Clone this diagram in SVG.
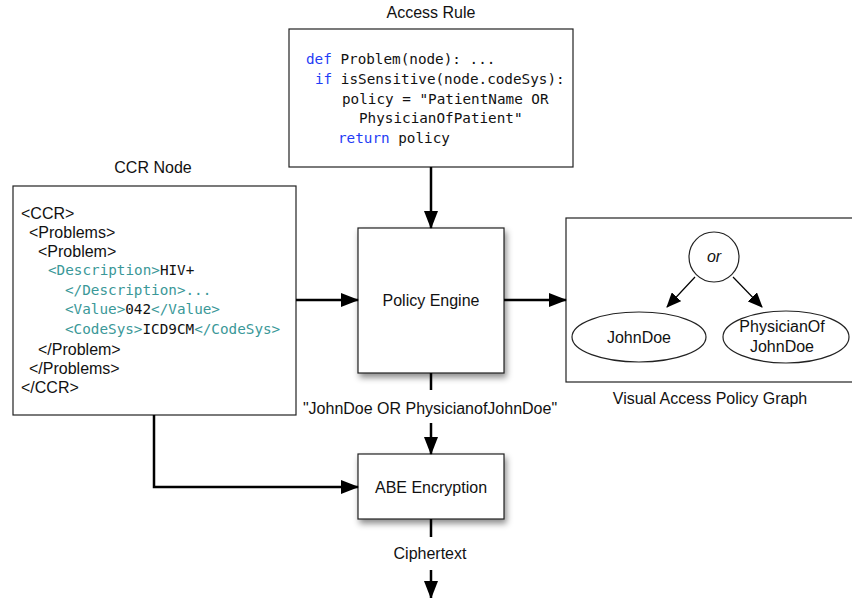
<svg xmlns="http://www.w3.org/2000/svg" width="852" height="598" viewBox="0 0 852 598">
<defs>
<style>
.box{fill:#fff;stroke:#222;stroke-width:1.2}
.lbl{font-family:"Liberation Sans",Arial,sans-serif;font-size:16px;fill:#111}
.mid{text-anchor:middle}
.mono{font-family:"DejaVu Sans Mono","Liberation Mono",monospace;font-size:14.3px;fill:#111}
.kw{fill:#1f3df5}
.tag{fill:#3a9898}
.conn{stroke:#000;stroke-width:2.5;fill:none}
.thin{stroke:#000;stroke-width:1.2;fill:none}
</style>
<marker id="ah" viewBox="0 0 18 14" refX="17" refY="7" markerWidth="18" markerHeight="14" markerUnits="userSpaceOnUse" orient="auto">
<path d="M0,0 L18,7 L0,14 Z" fill="#000"/>
</marker>
<marker id="ahs" viewBox="0 0 15 13" refX="14" refY="6.5" markerWidth="15" markerHeight="13" markerUnits="userSpaceOnUse" orient="auto">
<path d="M0,0 L15,6.5 L0,13 Z" fill="#000"/>
</marker>
<filter id="sh" x="-20%" y="-20%" width="150%" height="150%">
<feDropShadow dx="2" dy="4" stdDeviation="3" flood-color="#000" flood-opacity="0.45"/>
</filter>
</defs>

<g id="access-rule">
<text class="lbl mid" x="431" y="18">Access Rule</text>
<rect class="box" x="289" y="29" width="284" height="138"/>
<text class="mono" x="306" y="64"><tspan class="kw">def</tspan> Problem(node): ...</text>
<text class="mono" x="315" y="84"><tspan class="kw">if</tspan> isSensitive(node.codeSys):</text>
<text class="mono" x="342" y="104">policy = "PatientName OR</text>
<text class="mono" x="359" y="123">PhysicianOfPatient"</text>
<text class="mono" x="338" y="143"><tspan class="kw">return</tspan> policy</text>
</g>

<g id="ccr-node">
<text class="lbl mid" x="153" y="173">CCR Node</text>
<rect class="box" x="13" y="186" width="283" height="229"/>
<text class="lbl" x="21" y="219">&lt;CCR&gt;</text>
<text class="lbl" x="29" y="238">&lt;Problems&gt;</text>
<text class="lbl" x="38" y="257">&lt;Problem&gt;</text>
<text class="mono" x="48" y="275"><tspan class="tag">&lt;Description&gt;</tspan>HIV+</text>
<text class="mono tag" x="65" y="295">&lt;/Description&gt;...</text>
<text class="mono" x="65" y="314"><tspan class="tag">&lt;Value&gt;</tspan>042<tspan class="tag">&lt;/Value&gt;</tspan></text>
<text class="mono" x="65" y="334"><tspan class="tag">&lt;CodeSys&gt;</tspan>ICD9CM<tspan class="tag">&lt;/CodeSys&gt;</tspan></text>
<text class="lbl" x="38" y="355">&lt;/Problem&gt;</text>
<text class="lbl" x="29" y="374">&lt;/Problems&gt;</text>
<text class="lbl" x="21" y="393">&lt;/CCR&gt;</text>
</g>

<g id="policy-engine">
<rect class="box" x="358" y="228" width="146" height="145" filter="url(#sh)"/>
<text class="lbl mid" x="431" y="306">Policy Engine</text>
</g>

<g id="abe-encryption">
<rect class="box" x="358" y="454" width="146" height="65" filter="url(#sh)"/>
<text class="lbl mid" x="431" y="493">ABE Encryption</text>
</g>

<g id="policy-graph">
<rect class="box" x="566" y="218" width="290" height="164"/>
<circle class="box" cx="714" cy="257" r="25"/>
<text class="lbl mid" x="714" y="262" font-style="italic">or</text>
<ellipse class="box" cx="639" cy="337" rx="67" ry="25"/>
<text class="lbl mid" x="639" y="343">JohnDoe</text>
<ellipse class="box" cx="786" cy="337" rx="63" ry="26"/>
<text class="lbl mid" x="782" y="332">PhysicianOf</text>
<text class="lbl mid" x="782" y="352">JohnDoe</text>
<line class="thin" x1="695" y1="277" x2="667" y2="307" marker-end="url(#ahs)"/>
<line class="thin" x1="733" y1="277" x2="762" y2="307" marker-end="url(#ahs)"/>
<text class="lbl mid" x="710" y="404">Visual Access Policy Graph</text>
</g>

<g id="connectors">
<line class="conn" x1="431" y1="167" x2="431" y2="228" marker-end="url(#ah)"/>
<line class="conn" x1="296" y1="300" x2="358" y2="300" marker-end="url(#ah)"/>
<line class="conn" x1="504" y1="300" x2="566" y2="300" marker-end="url(#ah)"/>
<line class="conn" x1="431" y1="373" x2="431" y2="390"/>
<text class="lbl mid" x="430" y="414">"JohnDoe OR PhysicianofJohnDoe"</text>
<line class="conn" x1="431" y1="423" x2="431" y2="454" marker-end="url(#ah)"/>
<polyline class="conn" points="154,415 154,487 358,487" marker-end="url(#ah)"/>
<line class="conn" x1="431" y1="519" x2="431" y2="537"/>
<text class="lbl mid" x="430" y="559">Ciphertext</text>
<line class="conn" x1="431" y1="570" x2="431" y2="598" marker-end="url(#ah)"/>
</g>
</svg>
